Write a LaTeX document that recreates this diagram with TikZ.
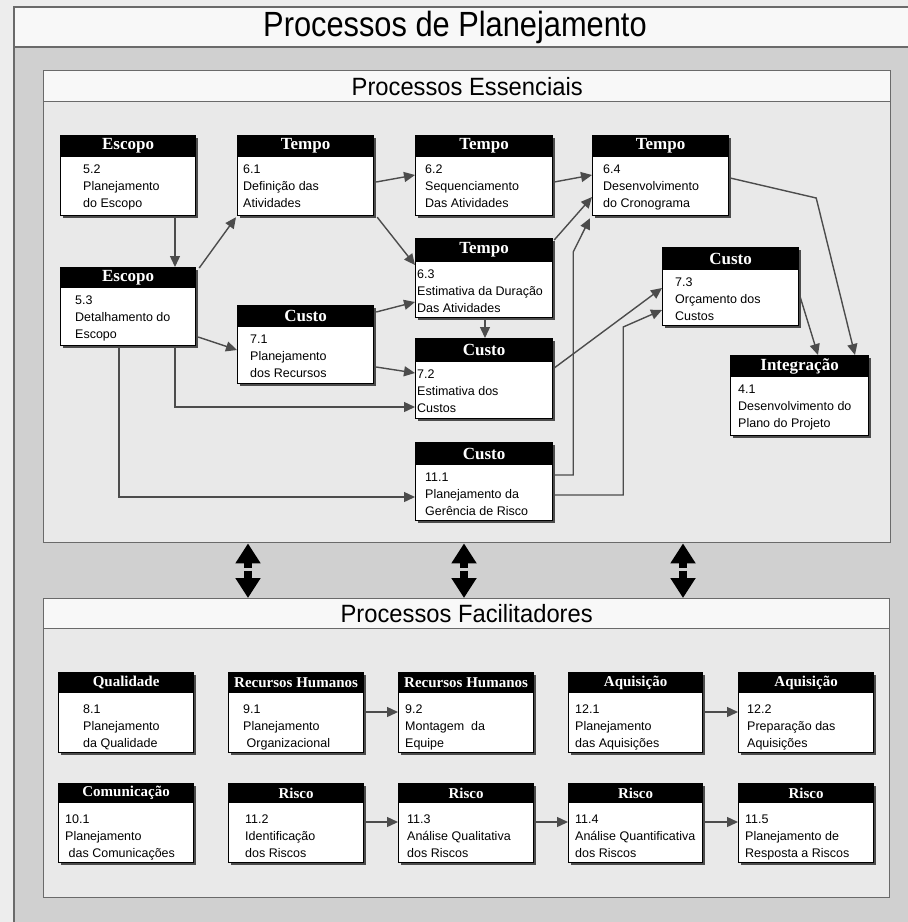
\documentclass[tikz,border=0pt]{standalone}
\usepackage{fontspec}
\setmainfont{Liberation Serif}
\newfontfamily\bodysans{Liberation Sans}
\newfontfamily\narrowsans[FakeStretch=0.88]{Liberation Sans}
\newfontfamily\midsans[FakeStretch=0.95]{Liberation Sans}
\usetikzlibrary{arrows.meta,calc}

\definecolor{pagegray}{HTML}{EDEDED}
\definecolor{bandgray}{HTML}{D0D0D0}
\definecolor{panelgray}{HTML}{E9E9E9}
\definecolor{stripwhite}{HTML}{F8F8F8}
\definecolor{framegray}{HTML}{6A6A6A}
\definecolor{linkgray}{HTML}{4C4C4C}

\tikzset{
  panel/.style={draw=framegray, line width=1.4pt, fill=panelgray, inner sep=0pt, anchor=north west},
  panelhead/.style={draw=framegray, line width=1.4pt, fill=stripwhite, inner sep=0pt, anchor=north,
    font=\midsans\fontsize{25}{28}\selectfont},
  boxbody/.style={draw=black, line width=1.2pt, fill=white, inner sep=0pt, anchor=north west},
  boxshadow/.style={fill=black!70},
  boxhead/.style={fill=black, text=white, inner sep=0pt, anchor=north,
    font=\bfseries\fontsize{17}{20}\selectfont},
  boxtext/.style={inner sep=0pt, anchor=north west, align=left,
    font=\bodysans\fontsize{12.5}{17}\selectfont},
  link/.style={draw=linkgray, line width=1.4pt, -{Triangle[length=11pt,width=10pt]}},
  bothway/.style={draw=black, line width=8pt, -{Triangle[length=20pt,width=24pt]}}
}

% gap between the header bar and the first text line of a process box
\newcommand\boxtextgap{8}
\newcommand\headsmall{\fontsize{15}{18}\selectfont}

% #1 name, #2/#3 top-left, #4/#5 bottom-right, #6 header height,
% #7 text indent, #8 header, #9 body lines
\newcommand\procbox[9]{%
  \fill[boxshadow] ({#2+2.5},{#3+2.5}) rectangle ({#4+2.5},{#5+2.5});
  \node[boxbody, minimum width={#4-#2}, minimum height={#5-#3}] (#1) at (#2,#3) {};
  \node[boxhead, minimum width={#4-#2}, minimum height={#6}] (#1h) at (#1.north) {#8};
  \node[boxtext] (#1t) at ($(#1.north west)+({#7},{#6+\boxtextgap})$) {#9};
}

\begin{document}
\begin{tikzpicture}[x=1pt, y=-1pt]
\useasboundingbox (0,0) rectangle (908,922);

% page, outer band and title strip
\fill[pagegray] (0,0) rectangle (908,922);
\fill[bandgray] (14,47) rectangle (908,922);
\fill[stripwhite] (14,7) rectangle (908,47);
\draw[framegray, line width=1.5pt] (908,7) -- (14,7) -- (14,922);
\draw[framegray, line width=1.5pt] (14,47) -- (908,47);
\node[font=\narrowsans\fontsize{35}{40}\selectfont, inner sep=0pt] (title) at (455,27) {Processos de Planejamento};

% the two panels
\node[panel, minimum width=847, minimum height=472] (ess) at (43,70) {};
\node[panelhead, minimum width=847, minimum height=31] (essh) at (ess.north) {Processos Essenciais};
\node[panel, minimum width=846, minimum height=299] (fac) at (43,598) {};
\node[panelhead, minimum width=846, minimum height=30] (fach) at (fac.north) {Processos Facilitadores};

% links between the panels
\coordinate (d1) at (248,569);
\coordinate (d2) at (464,569);
\coordinate (d3) at (683,569);
\foreach \d in {d1,d2,d3} {
  \draw[bothway] ($(\d)+(0,-1.5)$) -- (\d |- ess.south);
  \draw[bothway] ($(\d)+(0,1.5)$) -- (\d |- fac.north);
}

% core processes
\procbox{e52}{60}{135}{195}{215}{22}{23}{Escopo}{5.2\\Planejamento\\do Escopo}
\procbox{e61}{237}{135}{373}{215}{22}{6}{Tempo}{6.1\\Definição das\\Atividades}
\procbox{e62}{415}{135}{552}{215}{22}{10}{Tempo}{6.2\\Sequenciamento\\Das Atividades}
\procbox{e64}{592}{135}{728}{215}{22}{11}{Tempo}{6.4\\Desenvolvimento\\do Cronograma}
\procbox{e53}{60}{267}{195}{345}{21}{15}{Escopo}{5.3\\Detalhamento do\\Escopo}
\procbox{e63}{415}{238}{552}{317}{24}{2}{Tempo}{6.3\\Estimativa da Duração\\Das Atividades}
\procbox{e71}{237}{305}{373}{383}{22}{13}{Custo}{7.1\\Planejamento\\dos Recursos}
\procbox{e72}{415}{338}{552}{418}{24}{2}{Custo}{7.2\\Estimativa dos\\Custos}
\procbox{e111}{415}{442}{552}{520}{23}{10}{Custo}{11.1\\Planejamento da\\Gerência de Risco}
\procbox{e73}{662}{247}{798}{325}{23}{13}{Custo}{7.3\\Orçamento dos\\Custos}
\procbox{e41}{730}{355}{868}{435}{22}{8}{Integração}{4.1\\Desenvolvimento do\\Plano do Projeto}

% flow among core processes
\draw[link] ($(e52.south west)+(115,0)$) -- ($(e53.north west)+(115,0)$);
\draw[link] ($(e53.north east)+(3,1)$) -- ($(e61.south west)+(-1,1)$);
\draw[link] ($(e61.north east)+(2,47)$) -- ($(e62.north west)+(0,40)$);
\draw[link] ($(e61.south east)+(3,1)$) -- ($(e63.north west)+(0,27)$);
\draw[link] ($(e71.north east)+(2,7)$) -- ($(e63.north west)+(0,64)$);
\draw[link] ($(e53.north east)+(2,70)$) -- ($(e71.north west)+(0,45)$);
\draw[link] ($(e71.north east)+(2,62)$) -- ($(e72.north west)+(0,35)$);
\draw[link] ($(e53.south west)+(115,0)$) |- ($(e72.north west)+(0,69)$);
\draw[link] ($(e53.south west)+(59,0)$) |- ($(e111.north west)+(0,55)$);
\draw[link] ($(e63.south west)+(70,0)$) -- ($(e72.north west)+(70,0)$);
\draw[link] ($(e62.north east)+(1,47)$) -- ($(e64.north west)+(0,40)$);
\draw[link] ($(e63.north east)+(1,2)$) -- ($(e64.north west)+(0,62)$);
\draw[link] ($(e111.north east)+(1,33)$) -- ++(19,0) -- ++(0,-223) -- ($(e64.south west)+(-2,2)$);
\draw[link] ($(e72.north east)+(1,30)$) -- ($(e73.north west)+(0,41)$);
\draw[link] ($(e111.north east)+(1,53)$) -- ++(69,0) -- ++(0,-168) -- ($(e73.north west)+(0,63)$);
\draw[link] ($(e64.north east)+(1,43)$) -- ($(e64.north east)+(87,63)$) -- ($(e41.north west)+(125,0)$);
\draw[link] ($(e73.north east)+(1,50)$) -- ($(e41.north west)+(88,0)$);

% facilitating processes
\renewcommand\boxtextgap{12}
\procbox{f81}{58}{672}{193}{752}{21}{25}{\headsmall Qualidade}{8.1\\Planejamento\\da Qualidade}
\procbox{f91}{228}{672}{363}{752}{21}{15}{\headsmall Recursos Humanos}{9.1\\Planejamento\\\ Organizacional}
\procbox{f92}{398}{672}{533}{752}{21}{7}{\headsmall Recursos Humanos}{9.2\\Montagem\ \ da\\Equipe}
\procbox{f121}{568}{672}{702}{752}{21}{7}{\headsmall Aquisição}{12.1\\Planejamento\\das Aquisições}
\procbox{f122}{738}{672}{873}{752}{21}{9}{\headsmall Aquisição}{12.2\\Preparação das\\Aquisições}
\procbox{f101}{58}{783}{193}{862}{20}{7}{\headsmall Comunicação}{10.1\\Planejamento\\\ das Comunicações}
\procbox{f112}{228}{783}{363}{862}{20}{17}{\headsmall Risco}{11.2\\Identificação\\dos Riscos}
\procbox{f113}{398}{783}{533}{862}{20}{9}{\headsmall Risco}{11.3\\Análise Qualitativa\\dos Riscos}
\procbox{f114}{568}{783}{702}{862}{20}{7}{\headsmall Risco}{11.4\\Análise Quantificativa\\dos Riscos}
\procbox{f115}{738}{783}{873}{862}{20}{7}{\headsmall Risco}{11.5\\Planejamento de\\Resposta a Riscos}

\draw[link] ($(f91.north east)+(1,40)$) -- ($(f92.north west)+(0,40)$);
\draw[link] ($(f121.north east)+(1,40)$) -- ($(f122.north west)+(0,40)$);
\draw[link] ($(f112.north east)+(1,39)$) -- ($(f113.north west)+(0,39)$);
\draw[link] ($(f113.north east)+(1,39)$) -- ($(f114.north west)+(0,39)$);
\draw[link] ($(f114.north east)+(1,39)$) -- ($(f115.north west)+(0,39)$);
\end{tikzpicture}
\end{document}
